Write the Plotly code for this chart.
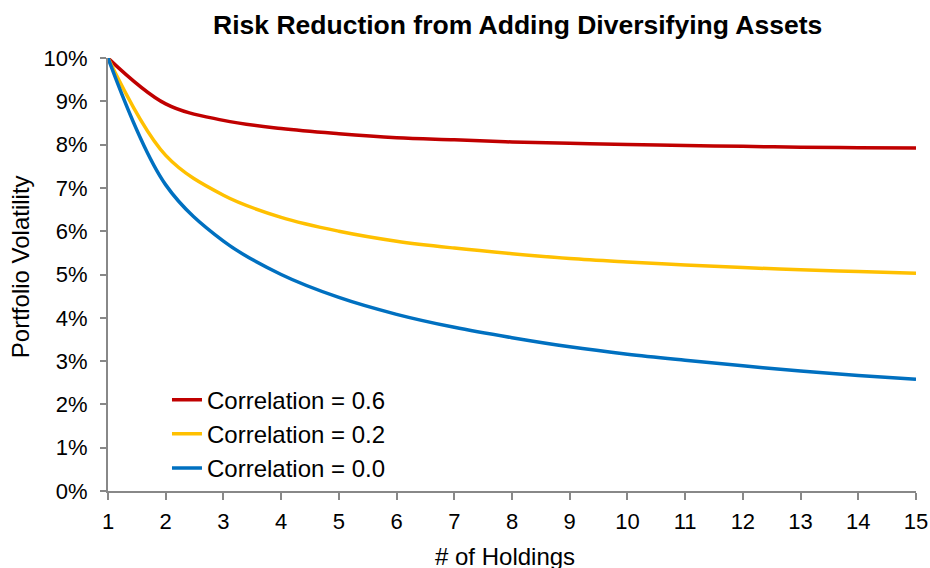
import plotly.graph_objects as go

holdings = list(range(1, 16))
vol_corr_06 = [0.1000, 0.0894, 0.0856, 0.0837, 0.0825, 0.0816, 0.0811, 0.0806,
               0.0803, 0.0800, 0.0798, 0.0796, 0.0794, 0.0793, 0.0792]
vol_corr_02 = [0.1000, 0.0775, 0.0683, 0.0632, 0.0600, 0.0577, 0.0561, 0.0548,
               0.0537, 0.0529, 0.0522, 0.0516, 0.0511, 0.0507, 0.0503]
vol_corr_00 = [0.1000, 0.0707, 0.0577, 0.0500, 0.0447, 0.0408, 0.0378, 0.0354,
               0.0333, 0.0316, 0.0302, 0.0289, 0.0277, 0.0267, 0.0258]
series_names = ["Correlation = 0.6", "Correlation = 0.2", "Correlation = 0.0"]
series_colors = ["#C00000", "#FFC000", "#0070C0"]
y_ticks = [i / 100 for i in range(0, 11)]

FONT = "Liberation Sans, Arial, sans-serif"
fig = go.Figure()
for name, vals, col in zip(series_names, [vol_corr_06, vol_corr_02, vol_corr_00], series_colors):
    fig.add_trace(go.Scatter(x=holdings, y=vals, name=name, mode="lines",
                             line=dict(color=col, width=3.5, shape="spline", smoothing=1.0)))

axis_col = "#888888"
fig.update_layout(
    width=930, height=568,
    margin=dict(l=108, r=14, t=58, b=77, autoexpand=False),
    paper_bgcolor="white", plot_bgcolor="white",
    font=dict(family=FONT, size=22, color="black"),
    title=dict(text="<b>Risk Reduction from Adding Diversifying Assets</b>",
               x=0.507, xref="paper", xanchor="center",
               y=1 - 25 / 568, yref="container", yanchor="middle",
               font=dict(family=FONT, size=26.5, color="black")),
    legend=dict(x=0.073, y=0.262, xanchor="left", yanchor="top",
                bgcolor="rgba(0,0,0,0)", font=dict(family=FONT, size=24, color="black"),
                tracegroupgap=0),
    showlegend=True,
    annotations=[
        dict(text="# of Holdings", xref="paper", yref="paper", x=0.491, y=-0.152,
             xanchor="center", yanchor="middle", showarrow=False,
             font=dict(family=FONT, size=24, color="black")),
        dict(text="Portfolio Volatility", xref="paper", yref="paper", x=-0.1089, y=0.517,
             xanchor="center", yanchor="middle", showarrow=False, textangle=-90,
             font=dict(family=FONT, size=24, color="black")),
    ],
)
fig.update_xaxes(range=[1, 15], dtick=1, tick0=1, showgrid=False, zeroline=False,
                 showline=True, linecolor=axis_col, linewidth=2, automargin=False,
                 ticks="outside", ticklen=7, tickwidth=2, tickcolor=axis_col,
                 ticklabelstandoff=3, ticklabeloverflow="allow",
                 tickfont=dict(family=FONT, size=22, color="black"))
fig.update_yaxes(range=[0, 0.10], tickvals=y_ticks, tickformat=".0%", showgrid=False,
                 zeroline=False, showline=True, linecolor=axis_col, linewidth=2,
                 automargin=False,
                 ticks="outside", ticklen=6, tickwidth=2, tickcolor=axis_col,
                 ticklabelstandoff=8,
                 tickfont=dict(family=FONT, size=22, color="black"))

fig.write_html("out.html", config={"displayModeBar": False},
               post_script="document.body.style.margin='0px';document.body.style.overflow='hidden';")
